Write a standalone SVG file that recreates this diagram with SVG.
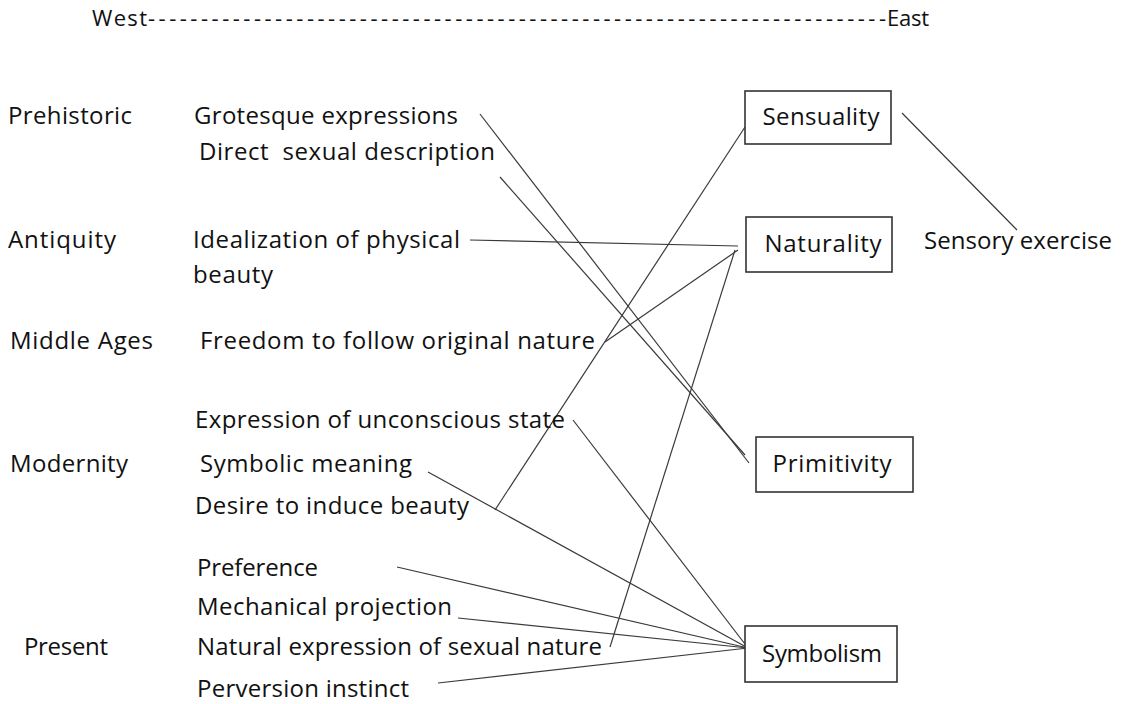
<svg xmlns="http://www.w3.org/2000/svg" width="1128" height="704" viewBox="0 0 1128 704">
<style>
text{font-family:"Open Sans","Noto Sans","Liberation Sans",sans-serif;font-size:24px;fill:#111}
.hdr{font-size:22px}
.box{fill:#fff;stroke:#333;stroke-width:1.6}
.c{fill:none;stroke:#3a3a3a;stroke-width:1.2}
.mid{text-anchor:middle}
</style>
<rect width="1128" height="704" fill="#fff"/>
<g id="axis">
<text class="hdr" y="26"><tspan x="92" textLength="55" lengthAdjust="spacing">West</tspan><tspan x="148" textLength="738" lengthAdjust="spacing">----------------------------------------------------------------------</tspan><tspan x="887" textLength="42" lengthAdjust="spacing">East</tspan></text>
</g>
<g id="eras">
<text x="8" y="124" textLength="124" lengthAdjust="spacing">Prehistoric</text>
<text x="8" y="248" textLength="108" lengthAdjust="spacing">Antiquity</text>
<text x="10" y="349" textLength="143" lengthAdjust="spacing">Middle Ages</text>
<text x="10" y="472" textLength="118" lengthAdjust="spacing">Modernity</text>
<text x="24" y="655" textLength="84" lengthAdjust="spacing">Present</text>
</g>
<g id="connectors">
<line class="c" x1="480" y1="114" x2="749" y2="463"/>
<line class="c" x1="500" y1="177" x2="745" y2="455"/>
<line class="c" x1="470" y1="240" x2="738" y2="246"/>
<line class="c" x1="745" y1="127" x2="495" y2="510"/>
<line class="c" x1="738" y1="250" x2="605" y2="342"/>
<line class="c" x1="735" y1="250" x2="610" y2="647"/>
<line class="c" x1="902" y1="113" x2="1017" y2="230"/>
<line class="c" x1="573" y1="420" x2="748" y2="648"/>
<line class="c" x1="428" y1="472" x2="748" y2="648"/>
<line class="c" x1="397" y1="567" x2="748" y2="648"/>
<line class="c" x1="458" y1="618" x2="748" y2="648"/>
<line class="c" x1="438" y1="683" x2="748" y2="648"/>
</g>
<g id="n-grotesque"><text x="194" y="124" textLength="264" lengthAdjust="spacing">Grotesque expressions</text></g>
<g id="n-direct"><text x="199" y="160" xml:space="preserve" textLength="296" lengthAdjust="spacing">Direct  sexual description</text></g>
<g id="n-idealization"><text x="193" y="248" textLength="267" lengthAdjust="spacing">Idealization of physical</text><text x="193" y="283" textLength="80" lengthAdjust="spacing">beauty</text></g>
<g id="n-freedom"><text x="200" y="349" textLength="395" lengthAdjust="spacing">Freedom to follow original nature</text></g>
<g id="n-expression"><text x="195" y="428" textLength="370" lengthAdjust="spacing">Expression of unconscious state</text></g>
<g id="n-symbolic"><text x="200" y="472" textLength="212" lengthAdjust="spacing">Symbolic meaning</text></g>
<g id="n-desire"><text x="195" y="514" textLength="274" lengthAdjust="spacing">Desire to induce beauty</text></g>
<g id="n-preference"><text x="197" y="576" textLength="121" lengthAdjust="spacing">Preference</text></g>
<g id="n-mechanical"><text x="197" y="615" textLength="255" lengthAdjust="spacing">Mechanical projection</text></g>
<g id="n-natural"><text x="197" y="655" textLength="405" lengthAdjust="spacing">Natural expression of sexual nature</text></g>
<g id="n-perversion"><text x="197" y="697" textLength="212" lengthAdjust="spacing">Perversion instinct</text></g>
<g id="n-sensuality"><rect class="box" x="745" y="91" width="146" height="53"/><text class="mid" x="821" y="125" textLength="117" lengthAdjust="spacing">Sensuality</text></g>
<g id="n-naturality"><rect class="box" x="746" y="217" width="146" height="55"/><text class="mid" x="823" y="252" textLength="117" lengthAdjust="spacing">Naturality</text></g>
<g id="n-primitivity"><rect class="box" x="756" y="437" width="157" height="55"/><text class="mid" x="832" y="472" textLength="119" lengthAdjust="spacing">Primitivity</text></g>
<g id="n-symbolism"><rect class="box" x="745" y="626" width="152" height="56"/><text class="mid" x="822" y="662" textLength="120" lengthAdjust="spacing">Symbolism</text></g>
<g id="n-sensory"><text x="924" y="249" textLength="188" lengthAdjust="spacing">Sensory exercise</text></g>
</svg>
